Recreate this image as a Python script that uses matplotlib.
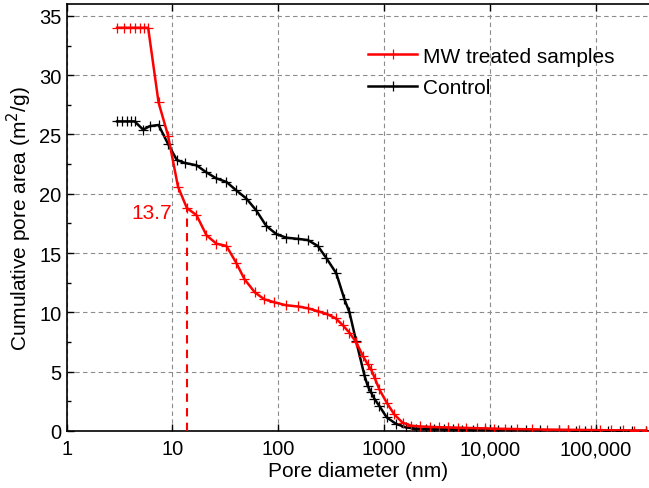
import numpy as np
import matplotlib
matplotlib.use("Agg")
import matplotlib.pyplot as plt
from matplotlib.ticker import FixedLocator, FixedFormatter, MultipleLocator, NullLocator

plt.rcParams['font.family'] = ['Liberation Sans', 'DejaVu Sans']

# MW treated samples (pore diameter nm, cumulative pore area m2/g)
mw_x = [3.0, 3.5, 4.0, 4.45, 4.9, 5.4, 5.9, 7.4, 9.1, 11.3, 13.7, 16.9, 21, 26, 32.4,
        40, 48, 60, 74, 92, 119, 153, 190, 237, 290, 350, 410, 470, 545, 630, 700,
        755, 815, 905, 1060, 1250, 1500, 1800, 2200, 2700, 3300, 4000, 5000, 6000,
        7500, 9000, 11000, 14000, 18000, 25000, 35000, 45000, 55000, 70000, 90000,
        110000, 140000, 180000, 230000, 300000]
mw_y = [34.0, 34.0, 34.0, 34.0, 34.0, 34.0, 34.0, 27.7, 24.9, 20.6, 18.8, 18.2, 16.5,
        15.8, 15.6, 14.2, 12.8, 11.7, 11.1, 10.85, 10.6, 10.5, 10.35, 10.1, 9.85, 9.5,
        8.9, 8.3, 7.5, 6.35, 5.65, 5.2, 4.5, 3.5, 2.4, 1.4, 0.7, 0.45, 0.38, 0.35,
        0.32, 0.3, 0.28, 0.26, 0.24, 0.22, 0.2, 0.18, 0.16, 0.14, 0.12, 0.11, 0.1,
        0.09, 0.08, 0.07, 0.06, 0.05, 0.04, 0.03]

# Control
ctl_x = [3.0, 3.35, 3.7, 4.05, 4.4, 5.3, 6.1, 7.4, 9.1, 11.0, 13.1, 16.9, 21, 26, 32.4,
         40, 50, 62, 77, 96, 119, 153, 190, 237, 284, 354, 423, 472, 545, 653, 702,
         755, 813, 906, 1060, 1300, 1620, 2000, 2500, 3000, 3700, 4500, 5500, 7000,
         9000, 12000, 16000, 22000, 30000, 45000, 55000, 65000, 80000, 100000,
         130000, 170000, 220000, 300000]
ctl_y = [26.1, 26.1, 26.1, 26.1, 26.1, 25.4, 25.7, 25.8, 24.2, 22.85, 22.6, 22.4, 21.8,
         21.3, 21.0, 20.3, 19.6, 18.6, 17.3, 16.6, 16.3, 16.2, 16.1, 15.6, 14.6, 13.3,
         11.1, 10.0, 7.6, 4.7, 3.8, 3.26, 2.7, 2.1, 1.15, 0.6, 0.3, 0.2, 0.17, 0.15,
         0.14, 0.13, 0.12, 0.11, 0.1, 0.09, 0.08, 0.07, 0.06, 0.05, 0.05, 0.04, 0.04,
         0.03, 0.03, 0.02, 0.02, 0.02]

marked_d = 13.7
marked_area = 18.8

x_ticks = [1, 10, 100, 1000, 10000, 100000]
x_labels = ["1", "10", "100", "1000", "10,000", "100,000"]

fig = plt.figure(figsize=(6.49, 4.89), dpi=100)
ax = fig.add_axes([0.1026, 0.1166, 0.8974, 0.8732])

ax.plot(mw_x, mw_y, color='#ff0000', lw=1.8, marker='+', ms=6.5, mew=0.9,
        label='MW treated samples', zorder=4)
ax.plot(ctl_x, ctl_y, color='black', lw=1.8, marker='+', ms=6.5, mew=0.9,
        label='Control', zorder=3)

ax.plot([marked_d, marked_d], [0, marked_area], color='#ff0000', lw=1.5,
        linestyle=(0, (4, 3)), zorder=4)
ax.text(marked_d * 0.72, marked_area - 0.35, "13.7", color='#ff0000', fontsize=15,
        ha='right', va='center')

ax.set_xscale('log')
ax.set_xlim(1, 3.2e5)
ax.set_ylim(0, 36)
ax.xaxis.set_major_locator(FixedLocator(x_ticks))
ax.xaxis.set_major_formatter(FixedFormatter(x_labels))
ax.xaxis.set_minor_locator(NullLocator())
ax.yaxis.set_major_locator(MultipleLocator(5))
ax.yaxis.set_minor_locator(MultipleLocator(2.5))

ax.tick_params(axis='both', which='major', direction='in', length=5, width=1,
               labelsize=14.5, top=True)
ax.tick_params(axis='y', which='minor', direction='in', length=3, width=1)
ax.tick_params(axis='x', which='major', pad=6)

ax.grid(True, which='major', color='#8c8c8c', linestyle=(0, (4, 3)), linewidth=0.8)
ax.spines['right'].set_visible(False)
for s in ['left', 'bottom', 'top']:
    ax.spines[s].set_linewidth(1.2)

ax.set_xlabel("Pore diameter (nm)", fontsize=15, labelpad=2)
ax.set_ylabel("Cumulative pore area (m$^2$/g)", fontsize=15, labelpad=4)

ax.legend(loc='upper left', bbox_to_anchor=(0.518, 0.900), frameon=False,
          fontsize=15, borderpad=0, handlelength=2.35, handletextpad=0.3,
          labelspacing=0.6, borderaxespad=0)

fig.savefig("out.png", dpi=100)
